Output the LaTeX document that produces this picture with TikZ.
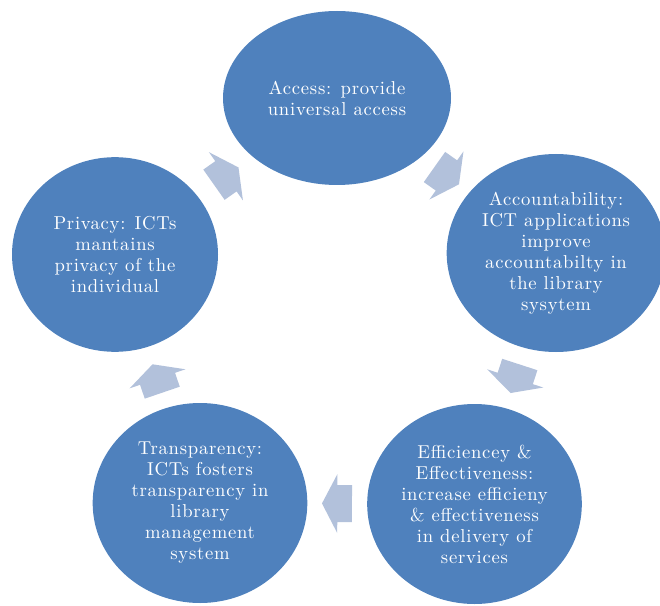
\documentclass[tikz,border=0pt]{standalone}
\usepackage{fontspec}
\usetikzlibrary{shapes.geometric,shapes.arrows,calc}

\definecolor{cycleblue}{RGB}{79,129,189}
\definecolor{arrowblue}{RGB}{178,193,219}

\newfontfamily\cyclefamily{lmroman10-regular.otf}[LetterSpace=4]
\newcommand{\cyclefont}{\cyclefamily\fontsize{14pt}{15.75pt}\selectfont}

\tikzset{every picture/.style={line width=0.75pt}}
\tikzset{
  cyclenode/.style={ellipse, fill=cycleblue, text=white, inner sep=0pt, align=center, font=\cyclefont},
  cyclearrow/.style={single arrow, fill=arrowblue, inner xsep=0pt, inner ysep=13.5pt,
    minimum height=22.5pt, single arrow head extend=8.25pt, single arrow tip angle=125}
}

\begin{document}
\begin{tikzpicture}[x=0.75pt,y=0.75pt,yscale=-1,xscale=1]
\useasboundingbox (0,0) rectangle (660,606);

%Shape: Ellipse [id:access]
\node[cyclenode, minimum width=171pt, minimum height=130.5pt] (access) at (337,98) {Access: provide\\universal access};
%Shape: Ellipse [id:account]
\node[cyclenode, minimum width=164pt, minimum height=148.5pt] (account) at (556,253) {Accountability:\\ICT applications\\improve\\accountabilty in\\the library\\sysytem};
%Shape: Ellipse [id:effic]
\node[cyclenode, minimum width=161pt, minimum height=150pt] (effic) at (474.5,504) {Efficiencey \&\\Effectiveness:\\increase efficieny\\\& effectiveness\\in delivery of\\services};
%Shape: Ellipse [id:transp]
\node[cyclenode, minimum width=161pt, minimum height=150pt] (transp) at (200,503) {Transparency:\\ICTs fosters\\transparency in\\library\\management\\system};
%Shape: Ellipse [id:privacy]
\node[cyclenode, minimum width=154.5pt, minimum height=146pt] (privacy) at (115,254.5) {Privacy: ICTs\\mantains\\privacy of the\\individual};

%Block Arrows (midway between centres, pointing to the next one)
\coordinate (m1) at ($($(access.center)!0.5!(account.center)$)!3.4pt!(access.center)$);
\coordinate (m2) at ($($(account.center)!0.5!(effic.center)$)!3.4pt!(account.center)$);
\coordinate (m3) at ($($(effic.center)!0.5!(transp.center)$)!3.4pt!(effic.center)$);
\coordinate (m4) at ($($(transp.center)!0.5!(privacy.center)$)!3.4pt!(transp.center)$);
\coordinate (m5) at ($($(privacy.center)!0.5!(access.center)$)!3.4pt!(privacy.center)$);

\path let \p1=($(account.center)-(access.center)$), \n1={atan2(\y1,\x1)} in (m1) node[cyclearrow, rotate=-\n1] (a1) {};
\path let \p1=($(effic.center)-(account.center)$), \n1={atan2(\y1,\x1)} in (m2) node[cyclearrow, rotate=-\n1] (a2) {};
\path let \p1=($(transp.center)-(effic.center)$), \n1={atan2(\y1,\x1)} in (m3) node[cyclearrow, rotate=-\n1] (a3) {};
\path let \p1=($(privacy.center)-(transp.center)$), \n1={atan2(\y1,\x1)} in (m4) node[cyclearrow, rotate=-\n1] (a4) {};
\path let \p1=($(access.center)-(privacy.center)$), \n1={atan2(\y1,\x1)} in (m5) node[cyclearrow, rotate=-\n1] (a5) {};

\end{tikzpicture}
\end{document}
